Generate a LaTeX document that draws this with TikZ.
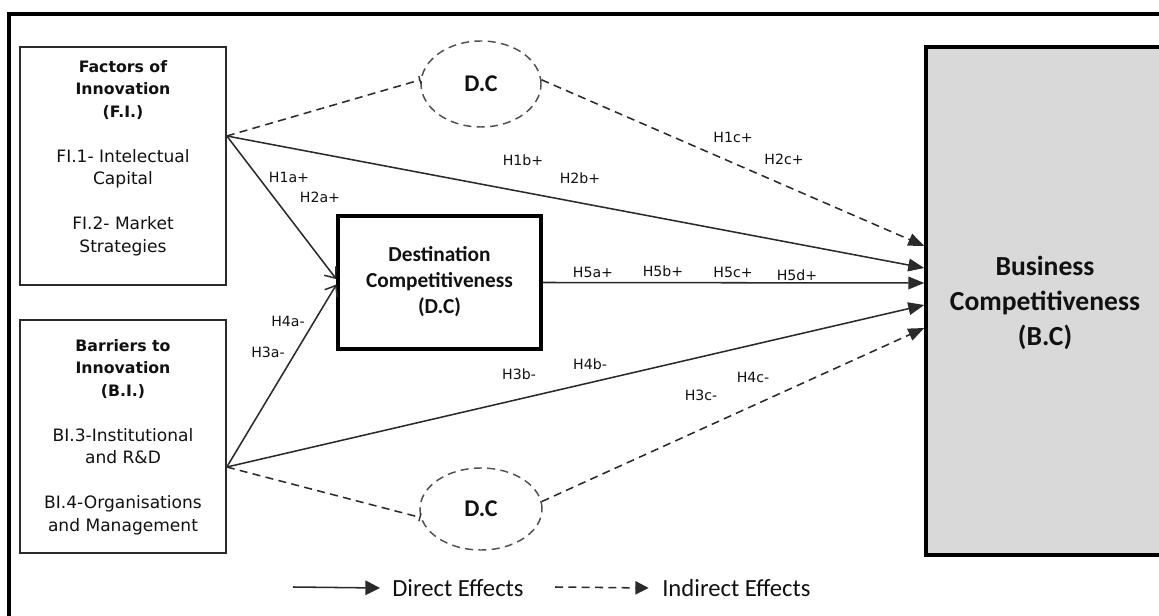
\documentclass[tikz,border=0pt]{standalone}
\usepackage{fontspec}
\setmainfont{DejaVu Sans}
\newfontfamily\calib{Carlito}
\usetikzlibrary{arrows.meta,shapes.geometric}
\definecolor{linegray}{HTML}{2A2A2A}
\definecolor{dashgray}{HTML}{505050}
\definecolor{bcfill}{HTML}{D9D9D9}
\definecolor{ink}{HTML}{111111}

\begin{document}
\begin{tikzpicture}[x=0.75pt,y=-0.75pt,
  conn/.style={draw=linegray, line width=1.15pt},
  ind/.style={conn, dash pattern=on 6pt off 4pt},
  filltip/.style={-{Triangle[length=12pt,width=9.5pt]}},
  barbtip/.style={-{Straight Barb[length=7pt,width=11pt,line width=1.1pt]}},
  bartip/.style={-{Bar[width=6pt,line width=1pt]}},
  srcbox/.style={draw=linegray, line width=1.2pt, rectangle, minimum width=154.5pt, inner sep=0pt},
  srctext/.style={align=center, text=ink, font=\fontsize{12.8}{16.9}\selectfont},
  medbox/.style={draw=black, line width=2.4pt, rectangle, minimum width=152.25pt, minimum height=99.75pt, inner sep=0pt},
  medtext/.style={align=center, text=ink, font=\calib\bfseries\fontsize{16}{19.5}\selectfont},
  oval/.style={ellipse, draw=dashgray, line width=1.1pt, dash pattern=on 6pt off 4pt, inner sep=0pt,
    text=ink, font=\calib\bfseries\fontsize{18}{20}\selectfont},
  hlab/.style={text=ink, inner sep=0pt, font=\fontsize{10.6}{12}\selectfont},
  legtext/.style={text=ink, inner sep=0pt, anchor=west, font=\calib\fontsize{18.5}{20}\selectfont}
]
\useasboundingbox (0,0) rectangle (1159,616);
\clip (0,0) rectangle (1159,616);

% outer frame
\draw[line width=2.6pt, draw=black] (9,14) rectangle (1185,640);

% source constructs
\node[srcbox, minimum height=178.5pt] (fi) at (123,166) {};
\node[srctext] (fitext) at (123,158)
  {\textbf{\fontsize{11.8}{16.9}\selectfont Factors of}\\
   \textbf{\fontsize{11.8}{16.9}\selectfont Innovation}\\
   \textbf{\fontsize{11.8}{16.9}\selectfont (F.I.)}\\[16.9pt]
   FI.1- Intelectual\\ Capital\\[16.9pt]
   FI.2- Market\\ Strategies};

\node[srcbox, minimum height=174.75pt] (bi) at (123,436.5) {};
\node[srctext] (bitext) at (123,437)
  {\textbf{\fontsize{11.8}{16.9}\selectfont Barriers to}\\
   \textbf{\fontsize{11.8}{16.9}\selectfont Innovation}\\
   \textbf{\fontsize{11.8}{16.9}\selectfont (B.I.)}\\[16.9pt]
   BI.3-Institutional\\ and R\&D\\[16.9pt]
   BI.4-Organisations\\ and Management};

% mediator
\node[medbox] (dc) at (439.5,282.5) {};
\node[medtext] (dctext) at (439.5,282) {Destination\\ Competitiveness\\ (D.C)};

% outcome
\node[draw=black, fill=bcfill, line width=2.6pt, rectangle, minimum width=178.5pt,
      minimum height=381pt, inner sep=0pt] (bc) at (1045,301) {};
\node[align=center, text=ink, font=\calib\bfseries\fontsize{20.7}{26}\selectfont] (bctext) at (1045,303)
  {Business\\ Competitiveness\\ (B.C)};

% mediating ellipses
\node[oval, minimum width=90pt, minimum height=64.5pt] (e1) at (481,84) {D.C};
\node[oval, minimum width=91.5pt, minimum height=61.5pt] (e2) at (481,509) {D.C};

% connectors from F.I.
\draw[conn, barbtip] ([yshift=22.5pt]fi.east) -- ([yshift=2.5pt]dc.west);
\draw[conn, filltip] ([yshift=22.5pt]fi.east) -- ([yshift=24.75pt]bc.west);
\draw[ind, bartip] ([yshift=22.5pt]fi.east) -- (e1.176);
\draw[ind, filltip] (e1.4) -- ([yshift=41.25pt]bc.west);

% connectors from B.I.
\draw[conn, barbtip] ([yshift=-22.9pt]bi.east) -- ([yshift=-1.5pt]dc.west);
\draw[conn, filltip] ([yshift=-22.9pt]bi.east) -- ([yshift=-3pt]bc.west);
\draw[ind, bartip] ([yshift=-22.9pt]bi.east) -- (e2.188);
\draw[ind, filltip] (e2.7) -- ([yshift=-20.25pt]bc.west);

% mediator to outcome
\draw[conn, filltip] (dc.east) -- ([yshift=13.5pt]bc.west);

% hypothesis labels
\node[hlab] (h1a) at (289,177) {H1a+};
\node[hlab] (h2a) at (320,197) {H2a+};
\node[hlab] (h1b) at (523,160) {H1b+};
\node[hlab] (h2b) at (580,178) {H2b+};
\node[hlab] (h1c) at (733,137) {H1c+};
\node[hlab] (h2c) at (784,159) {H2c+};
\node[hlab] (h5a) at (593,272) {H5a+};
\node[hlab] (h5b) at (663,271) {H5b+};
\node[hlab] (h5c) at (733,272) {H5c+};
\node[hlab] (h5d) at (797,275) {H5d+};
\node[hlab] (h4a) at (288,321) {H4a-};
\node[hlab] (h3a) at (268,352) {H3a-};
\node[hlab] (h3b) at (519,374) {H3b-};
\node[hlab] (h4b) at (590,364) {H4b-};
\node[hlab] (h3c) at (701,395) {H3c-};
\node[hlab] (h4c) at (753,377) {H4c-};

% legend
\coordinate (ld) at (293,587);
\node[legtext] (ldt) at (392,588) {Direct Effects};
\draw[conn, -{Triangle[length=11pt,width=11pt]}] (ld) -- ([xshift=-9pt]ldt.west);
\coordinate (li) at (555,587);
\node[legtext] (lit) at (662,588) {Indirect Effects};
\draw[ind, -{Triangle[length=10pt,width=10pt]}] (li) -- ([xshift=-10pt]lit.west);
\end{tikzpicture}
\end{document}
